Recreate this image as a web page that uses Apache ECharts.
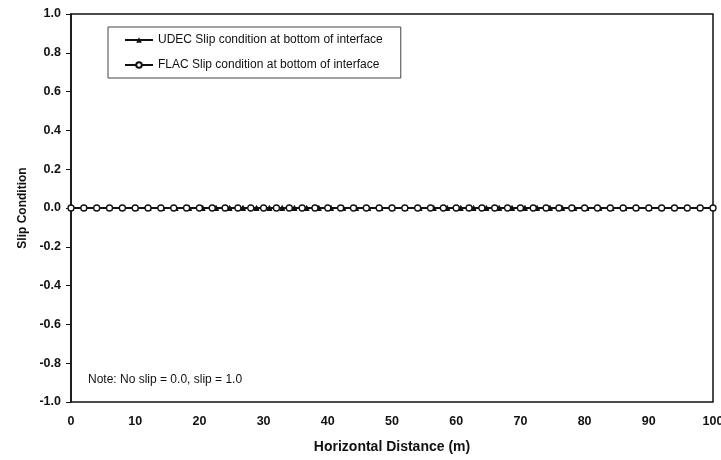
<!DOCTYPE html>
<html>
<head>
<meta charset="utf-8">
<script src="https://cdn.jsdelivr.net/npm/echarts@6/dist/echarts.min.js"></script>
<style>html,body{margin:0;padding:0;background:#fff}#c{width:721px;height:460px}</style>
</head>
<body>
<div id="c"></div>
<script>
// Slip condition along the interface, both models (0 = no slip, 1 = slip)
const udecX = [0, 2.0, 4.0, 6.0, 8.0, 10.1, 12.1, 14.2, 16.3, 18.4, 20.5, 22.6, 24.7, 26.8, 28.9, 30.9, 32.9, 34.8, 36.7, 38.6, 40.5, 42.4, 44.4, 46.3, 48.2, 50.1, 52.1, 54.3, 56.5, 58.6, 60.7, 62.7, 64.7, 66.7, 68.7, 70.7, 72.6, 74.6, 76.5, 78.4, 80.3, 82.3, 84.2, 86.2, 88.1, 90.1, 92.0, 94.0, 96.0, 98.0, 100];
const udecSlip = [0,0,0,0,0,0,0,0,0,0,0,0,0,0,0,0,0,0,0,0,0,0,0,0,0,0,0,0,0,0,0,0,0,0,0,0,0,0,0,0,0,0,0,0,0,0,0,0,0,0,0];
const flacX = [0, 2, 4, 6, 8, 10, 12, 14, 16, 18, 20, 22, 24, 26, 28, 30, 32, 34, 36, 38, 40, 42, 44, 46, 48, 50, 52, 54, 56, 58, 60, 62, 64, 66, 68, 70, 72, 74, 76, 78, 80, 82, 84, 86, 88, 90, 92, 94, 96, 98, 100];
const flacSlip = [0,0,0,0,0,0,0,0,0,0,0,0,0,0,0,0,0,0,0,0,0,0,0,0,0,0,0,0,0,0,0,0,0,0,0,0,0,0,0,0,0,0,0,0,0,0,0,0,0,0,0];
const xTicks = [0, 10, 20, 30, 40, 50, 60, 70, 80, 90, 100];
const yTicks = [-1.0, -0.8, -0.6, -0.4, -0.2, 0.0, 0.2, 0.4, 0.6, 0.8, 1.0];

const FONT = '"Liberation Sans", Arial, sans-serif';
const chart = echarts.init(document.getElementById('c'), null, { renderer: 'canvas' });

const pairs = (xs, ys) => xs.map((x, i) => [x, ys[i]]);

chart.setOption({
  animation: false,
  backgroundColor: '#fff',
  grid: {
    left: 71, right: 8, top: 14, bottom: 58,
    outerBoundsMode: 'none',
    containLabel: false,
    show: true, borderColor: '#111', borderWidth: 1.5, backgroundColor: 'transparent'
  },
  legend: {
    orient: 'vertical',
    left: 108, top: 27,
    padding: [6, 18, 6, 16],
    itemGap: 11,
    itemWidth: 28, itemHeight: 7,
    borderColor: '#444', borderWidth: 1,
    textStyle: { fontFamily: FONT, fontSize: 12, color: '#111', lineHeight: 14 },
    data: ['UDEC Slip condition at bottom of interface', 'FLAC Slip condition at bottom of interface']
  },
  xAxis: {
    type: 'value', min: xTicks[0], max: xTicks[xTicks.length - 1], interval: 10,
    name: 'Horizontal Distance (m)', nameLocation: 'middle', nameGap: 38,
    nameTextStyle: { fontFamily: FONT, fontSize: 14, fontWeight: 'bold', color: '#111' },
    axisLine: { show: true, lineStyle: { color: '#111', width: 1.5 } },
    axisTick: { show: false },
    splitLine: { show: false },
    axisLabel: { margin: 13, fontFamily: FONT, fontSize: 12.5, fontWeight: 'bold', color: '#111',
      formatter: v => xTicks.includes(v) ? String(v) : '' }
  },
  yAxis: {
    type: 'value', min: yTicks[0], max: yTicks[yTicks.length - 1], interval: 0.2,
    name: 'Slip Condition', nameLocation: 'middle', nameGap: 37,
    nameTextStyle: { fontFamily: FONT, fontSize: 12, fontWeight: 'bold', color: '#111' },
    axisLine: { show: true, lineStyle: { color: '#111', width: 1.5 } },
    axisTick: { show: true, inside: false, length: 5, lineStyle: { color: '#111', width: 1 } },
    splitLine: { show: false },
    axisLabel: { margin: 10, fontFamily: FONT, fontSize: 12.5, fontWeight: 'bold', color: '#111',
      formatter: v => (Math.abs(v) < 1e-9 ? 0 : v).toFixed(1) }
  },
  series: [
    {
      name: 'UDEC Slip condition at bottom of interface',
      type: 'line',
      data: pairs(udecX, udecSlip),
      symbol: 'triangle', symbolSize: 5,
      lineStyle: { color: '#111', width: 1.5 },
      itemStyle: { color: '#111', borderColor: '#111' },
      z: 3
    },
    {
      name: 'FLAC Slip condition at bottom of interface',
      type: 'line',
      data: pairs(flacX, flacSlip),
      symbol: 'circle', symbolSize: 6,
      lineStyle: { color: '#111', width: 1.5 },
      itemStyle: { color: '#fff', borderColor: '#111', borderWidth: 1.3 },
      z: 4
    }
  ],
  graphic: [
    {
      type: 'text', left: 88, top: 374,
      style: { text: 'Note: No slip = 0.0, slip = 1.0', fontFamily: FONT, fontSize: 12, fill: '#111' }
    }
  ]
});
</script>
</body>
</html>
